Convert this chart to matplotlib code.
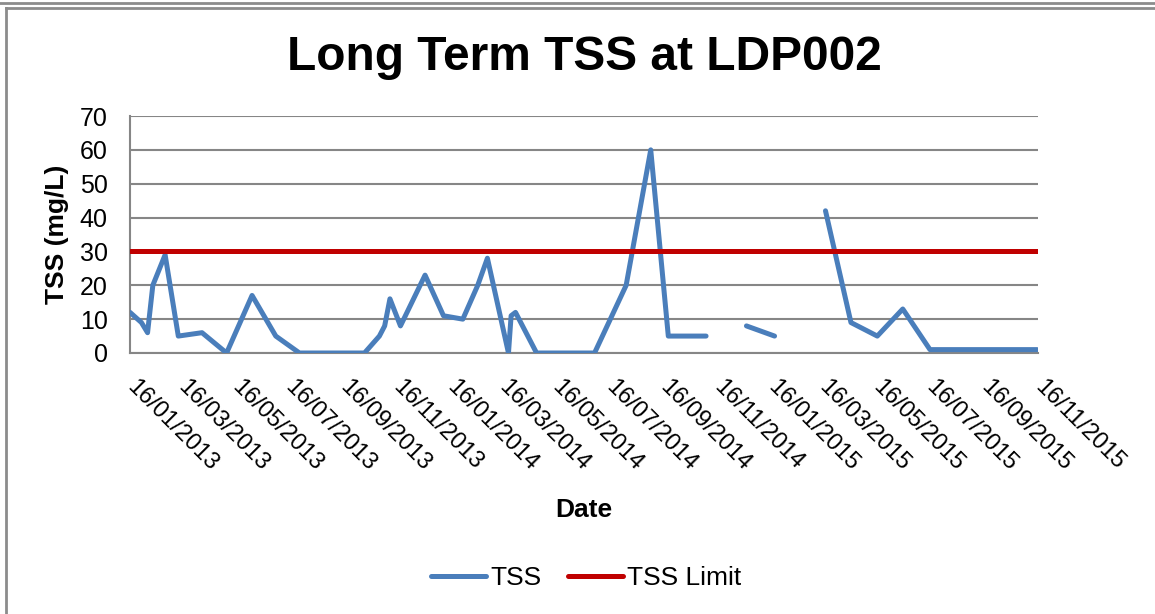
import numpy as np
import pandas as pd
import matplotlib
matplotlib.use("Agg")
import matplotlib.pyplot as plt
import matplotlib.dates as mdates
from matplotlib.lines import Line2D

plt.rcParams['font.family'] = ['Liberation Sans', 'DejaVu Sans']

# sample dates and TSS readings (NaN = missing sample -> gap in line)
dates = pd.to_datetime([
    "2013-01-16", "2013-01-29", "2013-02-05", "2013-02-11", "2013-02-25",
    "2013-03-12", "2013-04-08", "2013-05-06", "2013-06-04", "2013-07-01",
    "2013-07-28", "2013-08-26", "2013-09-16", "2013-10-10", "2013-10-27",
    "2013-11-02", "2013-11-08", "2013-11-20", "2013-12-18", "2014-01-08",
    "2014-01-30", "2014-02-16", "2014-02-27", "2014-03-23", "2014-03-26",
    "2014-03-31", "2014-04-24", "2014-05-26", "2014-06-29", "2014-08-04",
    "2014-09-01", "2014-09-21", "2014-11-03", "2014-11-28", "2014-12-19",
    "2015-01-20", "2015-02-18", "2015-03-19", "2015-04-17", "2015-05-17",
    "2015-06-15", "2015-07-16", "2015-08-17", "2015-09-16", "2015-10-15",
    "2015-11-15",
])
tss = [12, 9, 6, 20, 29,
       5, 6, 0, 17, 5,
       0, 0, 0, 0, 5,
       8, 16, 8, 23, 11,
       10, 20, 28, 0, 11,
       12, 0, 0, 0, 20,
       60, 5, 5, np.nan, 8,
       5, np.nan, 42, 9, 5,
       13, 1, 1, 1, 1,
       1]
tss_limit = 30

fig = plt.figure(figsize=(11.55, 6.14), dpi=100)
ax = fig.add_axes([130 / 1155, 1 - 353 / 614, 908 / 1155, 237 / 614])

ax.plot(dates, tss, color='#4A7EBB', lw=3.6, solid_capstyle='round',
        solid_joinstyle='round', label='TSS', zorder=3)
ax.axhline(tss_limit, color='#C00000', lw=3.6, solid_capstyle='round',
           label='TSS Limit', zorder=3)

ax.set_xlim(pd.Timestamp("2013-01-16"), pd.Timestamp("2015-11-16"))
ax.set_ylim(0, 70)
ax.set_yticks(range(0, 71, 10))
ax.yaxis.grid(True, color='#868686', lw=1.5)
ax.set_axisbelow(True)
ax.tick_params(axis='both', length=0)
ax.tick_params(axis='y', pad=16, labelsize=18)
ax.tick_params(axis='x', pad=22, labelsize=17)

ax.xaxis.set_major_locator(mdates.MonthLocator(bymonth=[1, 3, 5, 7, 9, 11], bymonthday=16))
ax.xaxis.set_major_formatter(mdates.DateFormatter('%d/%m/%Y'))
for lbl in ax.get_xticklabels():
    lbl.set_rotation(-45)
    lbl.set_rotation_mode('anchor')
    lbl.set_ha('left')
    lbl.set_va('center')

for side in ['top', 'right']:
    ax.spines[side].set_visible(False)
ax.spines['left'].set_color('#868686')
ax.spines['bottom'].set_color('#868686')
ax.spines['left'].set_linewidth(1.5)
ax.spines['bottom'].set_linewidth(1.5)

ax.set_ylabel('TSS (mg/L)', fontsize=19, fontweight='bold', labelpad=8)
fig.text(584 / 1155, 1 - 510 / 614, 'Date', fontsize=19, fontweight='bold',
         ha='center', va='center')
fig.text(584 / 1155, 1 - 58 / 614, 'Long Term TSS at LDP002', fontsize=34.5,
         fontweight='bold', ha='center', va='center')

handles = [Line2D([], [], color='#4A7EBB', lw=3.6, solid_capstyle='round'),
           Line2D([], [], color='#C00000', lw=3.6, solid_capstyle='round')]
fig.legend(handles, ['TSS', 'TSS Limit'], loc='center',
           bbox_to_anchor=(586 / 1155, 1 - 578 / 614), ncol=2, frameon=False,
           fontsize=19, handlelength=2.1, handletextpad=0.15, columnspacing=1.0)

# chart border lines
fig.add_artist(Line2D([0, 1], [1 - 3 / 614] * 2, color='#8C8C8C', lw=2,
                      transform=fig.transFigure))
fig.add_artist(Line2D([6 / 1155, 1], [1 - 8 / 614] * 2, color='#8C8C8C', lw=2,
                      transform=fig.transFigure))
fig.add_artist(Line2D([6 / 1155] * 2, [0, 1 - 8 / 614], color='#8C8C8C', lw=2,
                      transform=fig.transFigure))

fig.savefig('out.png', dpi=100)
